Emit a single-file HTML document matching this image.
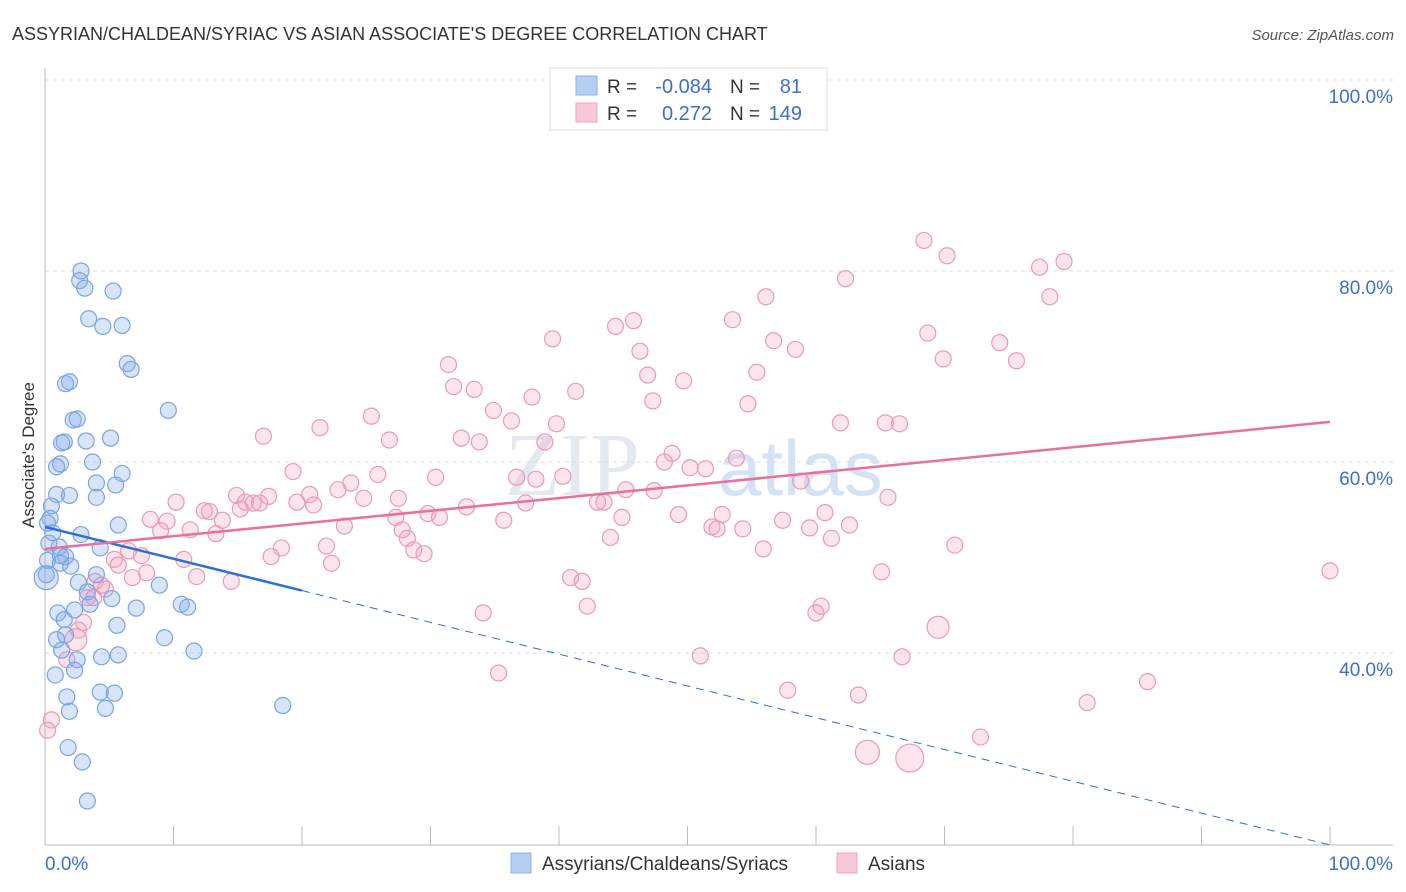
<!DOCTYPE html>
<html><head><meta charset="utf-8"><style>
body{margin:0;background:#fff;font-family:"Liberation Sans",sans-serif;}
svg{display:block}
</style></head><body>
<svg id="chart" width="1406" height="892">
<text x="12" y="40" font-size="18" fill="#333">ASSYRIAN/CHALDEAN/SYRIAC VS ASIAN ASSOCIATE'S DEGREE CORRELATION CHART</text>
<text x="1394" y="40" font-size="15" fill="#555" font-style="italic" text-anchor="end">Source: ZipAtlas.com</text>
<text x="34" y="455" font-size="17" fill="#333" text-anchor="middle" transform="rotate(-90 34 455)">Associate's Degree</text>
<text x="640" y="495" font-size="90" fill="#e4e8ef" font-family="Liberation Serif,serif" text-anchor="end">ZIP</text>
<text x="718" y="495" font-size="78" fill="#d4e2f5">atlas</text>
<g id="grid"></g><g id="axes"></g><g id="pts"></g><g id="lines"></g>
<g>
<rect x="550" y="68" width="277" height="62" fill="#fff" stroke="#ddd"/>
<rect x="576" y="76" width="21" height="19" fill="#b5cff2" stroke="#8fb2e6"/>
<rect x="576" y="103" width="21" height="19" fill="#f9c8d7" stroke="#eda5bd"/>
<text x="607" y="93" font-size="19" fill="#333">R = </text><text x="712" y="93" font-size="20" fill="#3a70cc" text-anchor="end">-0.084</text>
<text x="730" y="93" font-size="19" fill="#333">N = </text><text x="802" y="93" font-size="20" fill="#3a70cc" text-anchor="end">81</text>
<text x="607" y="120" font-size="19" fill="#333">R = </text><text x="712" y="120" font-size="20" fill="#3a70cc" text-anchor="end">0.272</text>
<text x="730" y="120" font-size="19" fill="#333">N = </text><text x="802" y="120" font-size="20" fill="#3a70cc" text-anchor="end">149</text>
</g>
<g>
<rect x="511" y="853" width="20" height="20" fill="#b5cff2" stroke="#8fb2e6"/>
<text x="542" y="870" font-size="19" fill="#333">Assyrians/Chaldeans/Syriacs</text>
<rect x="837" y="853" width="20" height="20" fill="#f9c8d7" stroke="#eda5bd"/>
<text x="868" y="870" font-size="19" fill="#333">Asians</text>
</g>
</svg>
<script>
const blueX=[2.8,2.7,3.1,5.3,3.4,4.5,6.0,6.4,6.7,1.9,1.6,9.6,2.2,2.5,1.5,1.3,3.2,5.1,1.2,3.7,0.9,6.0,4.0,5.5,0.9,1.9,4.0,0.5,0.4,5.7,2.8,0.6,0.3,1.1,4.3,1.2,1.6,0.2,2.0,0.1,4.0,2.6,8.9,3.3,5.2,3.5,10.6,11.1,7.1,2.3,1.0,1.5,5.6,1.6,0.9,9.3,11.6,1.3,5.7,4.4,2.5,2.3,0.8,4.3,5.4,1.7,4.7,1.9,18.5,1.8,2.9,3.3,0.1,0.2,1.2];
const blueY=[80.0,79.0,78.2,77.9,75.0,74.2,74.3,70.3,69.7,68.4,68.2,65.4,64.4,64.5,62.1,62.0,62.2,62.5,59.8,60.0,59.5,58.8,57.8,57.6,56.6,56.5,56.3,55.4,54.1,53.4,52.4,52.6,51.5,51.1,51.0,50.2,50.1,49.7,49.1,48.2,48.2,47.4,47.1,46.4,45.7,45.1,45.1,44.8,44.7,44.5,44.2,43.5,42.9,41.9,41.4,41.6,40.2,40.3,39.8,39.6,39.3,38.2,37.7,35.9,35.8,35.4,34.2,33.9,34.5,30.1,28.6,24.5,47.9,53.6,49.4];
const pinkX=[68.4,70.2,79.3,77.4,62.3,78.2,56.1,44.4,45.8,53.5,68.7,39.5,46.3,56.7,74.3,58.4,69.9,75.6,31.4,46.9,55.4,31.8,33.4,49.7,41.3,37.9,47.3,54.7,34.9,25.4,36.3,21.4,39.8,17.0,32.4,26.8,33.8,38.9,61.9,65.4,66.5,48.8,48.2,51.4,50.2,53.8,19.3,30.4,36.7,25.9,38.2,23.8,40.3,58.8,45.2,47.4,10.2,22.8,14.9,17.4,20.6,65.6,24.8,27.5,32.8,37.4,43.0,43.5,20.9,12.4,12.8,15.6,16.2,15.2,19.6,16.7,8.2,9.5,13.8,27.3,29.8,30.7,35.7,44.9,49.3,57.4,60.7,62.6,52.7,51.9,52.3,54.3,59.5,9.0,11.3,13.3,23.3,27.8,28.2,44.0,61.2,70.8,18.4,55.9,6.5,21.9,28.7,29.5,17.6,10.8,5.4,7.5,22.3,5.7,65.1,7.9,6.8,11.8,14.5,40.9,41.8,3.9,4.4,100,4.7,3.3,3.8,42.2,60.4,60.0,34.1,3.0,2.6,2.4,69.5,51.0,66.7,1.7,35.3,85.8,57.8,63.3,81.1,0.5,0.2,64.0,67.3,72.8];
const pinkY=[83.2,81.6,81.0,80.4,79.2,77.3,77.3,74.2,74.8,74.9,73.5,72.9,71.6,72.7,72.5,71.8,70.8,70.6,70.2,69.1,69.4,67.9,67.6,68.5,67.4,66.8,66.4,66.1,65.4,64.8,64.3,63.6,64.0,62.7,62.5,62.3,62.1,62.1,64.1,64.1,64.0,60.9,60.0,59.3,59.4,60.4,59.0,58.4,58.4,58.7,58.2,57.8,58.5,58.0,57.1,57.0,55.8,57.1,56.5,56.4,56.6,56.3,56.2,56.2,55.3,55.7,55.8,55.8,55.5,54.9,54.8,55.8,55.7,55.1,55.8,55.7,54.0,53.8,53.9,54.2,54.6,54.2,53.9,54.2,54.5,53.9,54.7,53.4,54.5,53.2,53.0,53.0,53.1,52.8,52.9,52.5,53.3,52.9,52.0,52.1,52.0,51.3,51.0,50.9,50.7,51.2,50.8,50.4,50.1,49.8,49.8,50.2,49.4,49.2,48.5,48.4,47.9,48.0,47.5,47.9,47.5,47.5,47.1,48.6,46.7,45.8,45.8,44.9,44.9,44.2,44.2,43.2,42.4,41.4,42.7,39.7,39.6,39.3,37.9,37.0,36.1,35.6,34.8,33.0,31.9,29.6,29.0,31.2];
const bigPink={146:14,145:12,133:11,134:11};
const bigBlue={72:12};
const yTicks=[100,80,60,40];
const xTickLabels=["0.0%","100.0%"];
const blueTrend=[53.2,19.9]; // y at x=0 and x=100
const pinkTrend=[50.9,64.2];
const X=v=>45+v*12.85, Y=v=>80+(100-v)*9.55;
const NS="http://www.w3.org/2000/svg";
function mk(t,a,p){const e=document.createElementNS(NS,t);for(const k in a)e.setAttribute(k,a[k]);p.appendChild(e);return e;}
const grid=document.getElementById('grid'),axes=document.getElementById('axes'),pts=document.getElementById('pts'),lines=document.getElementById('lines');
yTicks.forEach(v=>{
 const l=mk('line',{x1:45,x2:1393,y1:Y(v),y2:Y(v),stroke:'#ddd','stroke-dasharray':'4,4'},grid);
 
 
 const t=mk('text',{x:1393,y:Y(v)+23,'font-size':19,fill:'#3a70cc','text-anchor':'end'},grid);
 t.textContent=v.toFixed(1)+'%';
 
 
});
mk('line',{x1:45,x2:45,y1:68,y2:845,stroke:'#bbb'},axes);
mk('line',{x1:45,x2:1393,y1:845,y2:845,stroke:'#bbb'},axes);
for(let i=1;i<=10;i++){const t=mk('line',{x1:X(i*10),x2:X(i*10),y1:826,y2:845,stroke:'#bbb'},axes);
 
 }
const xl0=mk('text',{x:45,y:870,'font-size':19,fill:'#3a70cc'},axes);xl0.textContent=xTickLabels[0];


const xl1=mk('text',{x:1393,y:870,'font-size':19,fill:'#3a70cc','text-anchor':'end'},axes);xl1.textContent=xTickLabels[1];


pinkX.forEach((x,i)=>{const c=mk('circle',{cx:X(x),cy:Y(pinkY[i]),r:bigPink[i]||8,fill:'rgba(244,160,190,0.28)',stroke:'#eb9ab5','stroke-width':1.2},pts);
 
 });
blueX.forEach((x,i)=>{const c=mk('circle',{cx:X(x),cy:Y(blueY[i]),r:bigBlue[i]||8,fill:'rgba(130,170,235,0.32)',stroke:'#7aa5e3','stroke-width':1.2},pts);
 
 });
const by=x=>blueTrend[0]+(blueTrend[1]-blueTrend[0])*x/100;
const bl=mk('line',{x1:X(0),y1:Y(by(0)),x2:X(20),y2:Y(by(20)),stroke:'#2b6fd8','stroke-width':2.5},lines);


const bd=mk('line',{x1:X(20),y1:Y(by(20)),x2:X(100),y2:Y(by(100)),stroke:'#2b6fd8','stroke-width':1,'stroke-dasharray':'8,6'},lines);


const pl=mk('line',{x1:X(0),y1:Y(pinkTrend[0]),x2:X(100),y2:Y(pinkTrend[1]),stroke:'#e8709a','stroke-width':2.5},lines);


</script>
</body></html>
